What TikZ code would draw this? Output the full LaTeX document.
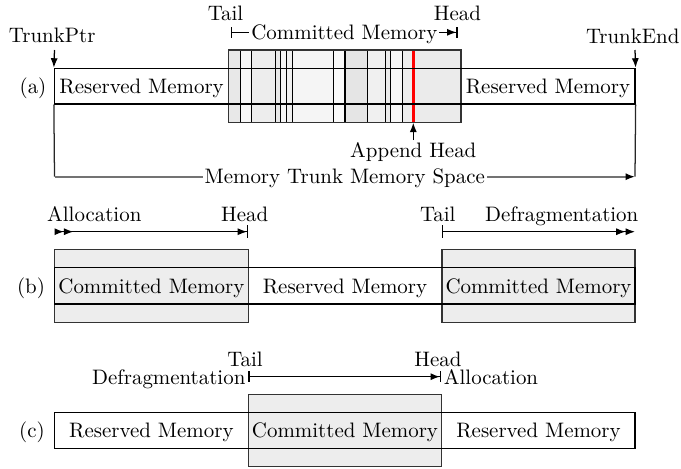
\documentclass[tikz,border=0pt]{standalone}
\usetikzlibrary{arrows.meta,fit}
\begin{document}
\begin{tikzpicture}[x=0.478pt,y=-0.478pt,
  lbl/.style={inner sep=0pt, text height=6.83pt, text depth=0pt},
  online/.style={lbl, fill=white, inner xsep=1pt},
  resv/.style={draw, inner sep=0pt, line width=0.6pt},
  comm/.style={draw=black!80, fill=black!7, inner sep=0pt, line width=0.6pt},
  frame/.style={draw=black!80, inner sep=0pt, line width=0.6pt},
  stripe/.style={line width=0.6pt},
  line width=0.6pt]
\useasboundingbox (0,0) rectangle (681,468);

% ---------------- (a) ----------------
\foreach \xa/\xb/\c in {228.7/240.7/9, 240.7/251.7/3, 251.7/275.3/7, 275.3/280.3/9,
  280.3/286.3/4, 286.3/292.3/6, 292.3/333.3/4, 333.3/345/2, 345/367.7/10,
  367.7/385.7/6, 385.7/390.7/8, 390.7/402.7/3, 402.7/413.3/7, 413.3/461/8}
  \fill[black!\c] (\xa,50) rectangle (\xb,122.7);
\foreach \x in {240.7,251.7,275.3,280.3,286.3,292.3,333.3,345,367.7,385.7,390.7,402.7}
  \draw[stripe] (\x,50) -- (\x,122.7);
\draw[red, line width=1.3pt] (413.3,50) -- (413.3,122.7);
\coordinate (redBot) at (413.3,122.7);
\node[frame, fit={(228.7,50) (461,122.7)}] (comA) {};
\node[resv, fit={(54.5,68.3) (635,104)}] (resA) {};

\node[lbl] (labA) at (33,86) {(a)};
\node[lbl] (resA1) at (141.6,86) {Reserved Memory};
\node[lbl] (resA2) at (548,86) {Reserved Memory};

\node[lbl] (ptr) at (52.2,35.8) {TrunkPtr};
\coordinate (ptrS) at (54.5,50);
\draw[-{Latex[length=4.5pt,width=3.4pt]}] (ptrS) -- (resA.north west);
\node[lbl] (tend) at (632.7,36) {TrunkEnd};
\coordinate (endS) at (635,50);
\draw[-{Latex[length=4.5pt,width=3.4pt]}] (endS) -- (resA.north east);

\node[lbl] (tailA) at (225.5,13.3) {Tail};
\node[lbl] (headA) at (457.5,13.3) {Head};
\coordinate (cmL) at (231,32.3);
\coordinate (cmR) at (457.7,32.3);
\draw[{Bar[width=5pt]}-{Latex[length=4.5pt,width=3.4pt] Bar[width=5pt]}] (cmL) -- node[online] (cmLab) {Committed Memory} (cmR);

\node[lbl] (app) at (413.3,150.7) {Append Head};
\coordinate (appT) at (413.3,140);
\draw[-{Latex[length=4.5pt,width=3.4pt]}] (appT) -- (redBot);

\coordinate (msL) at (54.5,176.7);
\coordinate (msR) at (635,176.7);
\draw[black!85] (resA.south west) -- (msL);
\draw[black!85] (resA.south east) -- (msR);
\draw[black!55, line width=0.8pt, -{Latex[length=4.5pt,width=3.4pt,black]}] (msL) -- node[online, text=black] (msLab) {Memory Trunk Memory Space} (msR);

% ---------------- (b) ----------------
\node[comm, fit={(54.5,249.3) (248.3,322.3)}] (comB1) {};
\node[comm, fit={(442,249.3) (635,322.3)}] (comB2) {};
\node[resv, fit={(54.5,267.7) (635,304)}] (resB) {};

\node[lbl] (labB) at (31,286) {(b)};
\node[lbl] (comB1t) at (151.4,286) {Committed Memory};
\node[lbl] (resBt) at (345,286) {Reserved Memory};
\node[lbl] (comB2t) at (538.5,286) {Committed Memory};

\node[lbl] (allocB) at (94.3,214.2) {Allocation};
\node[lbl] (headB) at (244.7,214.2) {Head};
\node[lbl] (tailB) at (437.8,214.2) {Tail};
\node[lbl] (defragB) at (561.7,214.2) {Defragmentation};
\coordinate (bL1) at (54.5,231.7);
\coordinate (bR1) at (248.3,231.7);
\draw[{Latex[length=4.5pt,width=3.4pt,reversed] Latex[length=4.5pt,width=3.4pt,reversed]}-{Latex[length=4.5pt,width=3.4pt] Bar[width=6pt]}] (bL1) -- (bR1);
\coordinate (bL2) at (442,231.7);
\coordinate (bR2) at (635,231.7);
\draw[{Bar[width=6pt]}-{Latex[length=4.5pt,width=3.4pt] Latex[length=4.5pt,width=3.4pt]}] (bL2) -- (bR2);

% ---------------- (c) ----------------
\node[comm, fit={(248.3,394.7) (441.7,466.7)}] (comC) {};
\node[resv, fit={(54.5,412.7) (635,448.7)}] (resC) {};

\node[lbl] (labC) at (32,430.7) {(c)};
\node[lbl] (resC1) at (151.4,430.7) {Reserved Memory};
\node[lbl] (comCt) at (345,430.7) {Committed Memory};
\node[lbl] (resC2) at (538.5,430.7) {Reserved Memory};

\node[lbl] (tailC) at (245,359.5) {Tail};
\node[lbl] (headC) at (438,359.5) {Head};
\node[lbl, anchor=east] (defragC) at (246,377) {Defragmentation};
\node[lbl, anchor=west] (allocC) at (443.3,377) {Allocation};
\coordinate (cL) at (248.3,376.7);
\coordinate (cR) at (441.2,376.7);
\draw[{Bar[width=5pt]}-{Latex[length=4.5pt,width=3.4pt] Bar[width=5pt]}] (cL) -- (cR);
\end{tikzpicture}
\end{document}
